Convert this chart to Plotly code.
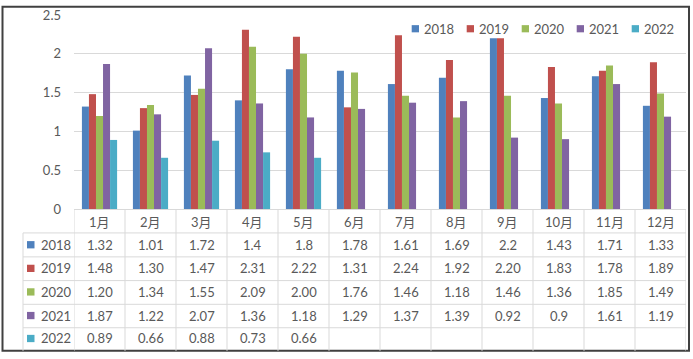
import plotly.graph_objects as go

months = ["1月", "2月", "3月", "4月", "5月", "6月", "7月", "8月", "9月", "10月", "11月", "12月"]
years = ["2018", "2019", "2020", "2021", "2022"]
v2018 = [1.32, 1.01, 1.72, 1.4, 1.8, 1.78, 1.61, 1.69, 2.2, 1.43, 1.71, 1.33]
v2019 = [1.48, 1.30, 1.47, 2.31, 2.22, 1.31, 2.24, 1.92, 2.20, 1.83, 1.78, 1.89]
v2020 = [1.20, 1.34, 1.55, 2.09, 2.00, 1.76, 1.46, 1.18, 1.46, 1.36, 1.85, 1.49]
v2021 = [1.87, 1.22, 2.07, 1.36, 1.18, 1.29, 1.37, 1.39, 0.92, 0.9, 1.61, 1.19]
v2022 = [0.89, 0.66, 0.88, 0.73, 0.66, None, None, None, None, None, None, None]
series = [v2018, v2019, v2020, v2021, v2022]
formats = ["g", ".2f", ".2f", "g", ".2f"]
colors = ["#4F81BD", "#C0504D", "#9BBB59", "#8064A2", "#4BACC6"]
yticks = [0, 0.5, 1, 1.5, 2, 2.5]
ytick_text = ["0", "0.5", "1", "1.5", "2", "2.5"]

W, H = 693, 359
L, R, T, B = 74, 686, 12, 209
FONT = "Lato, 'Noto Sans CJK SC', sans-serif"
TXT = "#595959"
GRID = "#d9d9d9"


def px2x(px):
    return (px - L) / (R - L)


def py2y(py):
    return (B - py) / (B - T)


fig = go.Figure()
for name, vals, col in zip(years, series, colors):
    fig.add_trace(go.Bar(x=months, y=vals, name=name, marker=dict(color=col, line=dict(width=0)),
                         showlegend=False))

shapes = []
annotations = []

# outer border
shapes.append(dict(type="rect", xref="paper", yref="paper",
                   x0=px2x(2.5), x1=px2x(689), y0=py2y(353), y1=py2y(3.5),
                   line=dict(color="#404040", width=2), layer="above"))

# table horizontal lines
row_lines = [233.3, 257.6, 281.7, 305.8, 329.6]
for py in row_lines:
    shapes.append(dict(type="line", xref="paper", yref="paper",
                       x0=px2x(23), x1=px2x(R), y0=py2y(py), y1=py2y(py),
                       line=dict(color=GRID, width=1)))
# table vertical lines
shapes.append(dict(type="line", xref="paper", yref="paper",
                   x0=px2x(23), x1=px2x(23), y0=py2y(row_lines[0]), y1=py2y(353),
                   line=dict(color=GRID, width=1)))
for i in range(len(months) + 1):
    shapes.append(dict(type="line", xref="x", yref="paper",
                       x0=i - 0.5, x1=i - 0.5, y0=py2y(B), y1=py2y(353),
                       line=dict(color=GRID, width=1)))

font = dict(family=FONT, size=13, color=TXT)

# month header
for m in months:
    annotations.append(dict(xref="x", yref="paper", x=m, y=py2y(222), text=m,
                            showarrow=False, xanchor="center", yanchor="middle", font=font))

row_centers = [245.3, 269.3, 293.2, 317.2, 340.5]
for yi, (name, vals, col, fmt) in enumerate(zip(years, series, colors, formats)):
    cy = row_centers[yi]
    # row label
    shapes.append(dict(type="rect", xref="paper", yref="paper",
                       x0=px2x(27), x1=px2x(34.5), y0=py2y(cy + 3.7), y1=py2y(cy - 3.7),
                       fillcolor=col, line=dict(width=0)))
    annotations.append(dict(xref="paper", yref="paper", x=px2x(39), y=py2y(cy), text=name,
                            showarrow=False, xanchor="left", yanchor="middle", font=font))
    for m, v in zip(months, vals):
        if v is None:
            continue
        annotations.append(dict(xref="x", yref="paper", x=m, y=py2y(cy), text=format(v, fmt),
                                showarrow=False, xanchor="center", yanchor="middle", font=font))
    # legend
    lx = 411.7 + yi * 55
    shapes.append(dict(type="rect", xref="paper", yref="paper",
                       x0=px2x(lx), x1=px2x(lx + 7.3), y0=py2y(29.6), y1=py2y(22.3),
                       fillcolor=col, line=dict(width=0)))
    annotations.append(dict(xref="paper", yref="paper", x=px2x(lx + 10.5), y=py2y(26), text=name,
                            showarrow=False, xanchor="left", yanchor="middle", font=font))

fig.update_layout(
    width=W, height=H,
    margin=dict(l=L, r=W - R, t=T, b=H - B, pad=0),
    paper_bgcolor="white", plot_bgcolor="white",
    barmode="group", bargap=0.31, bargroupgap=0,
    shapes=shapes, annotations=annotations,
    xaxis=dict(type="category", range=[-0.5, 11.5], showticklabels=False, showgrid=False,
               showline=True, linecolor=GRID, linewidth=1, ticks="", fixedrange=True),
    yaxis=dict(range=[0, 2.5], tickvals=yticks, ticktext=ytick_text, showgrid=True,
               gridcolor=GRID, gridwidth=1, zeroline=False, showline=False, ticks="",
               ticklabelstandoff=12, tickfont=font, fixedrange=True),
    font=font,
)

fig.write_html("out.html", config={"displayModeBar": False},
               post_script="document.body.style.margin='0';document.body.style.overflow='hidden';")
